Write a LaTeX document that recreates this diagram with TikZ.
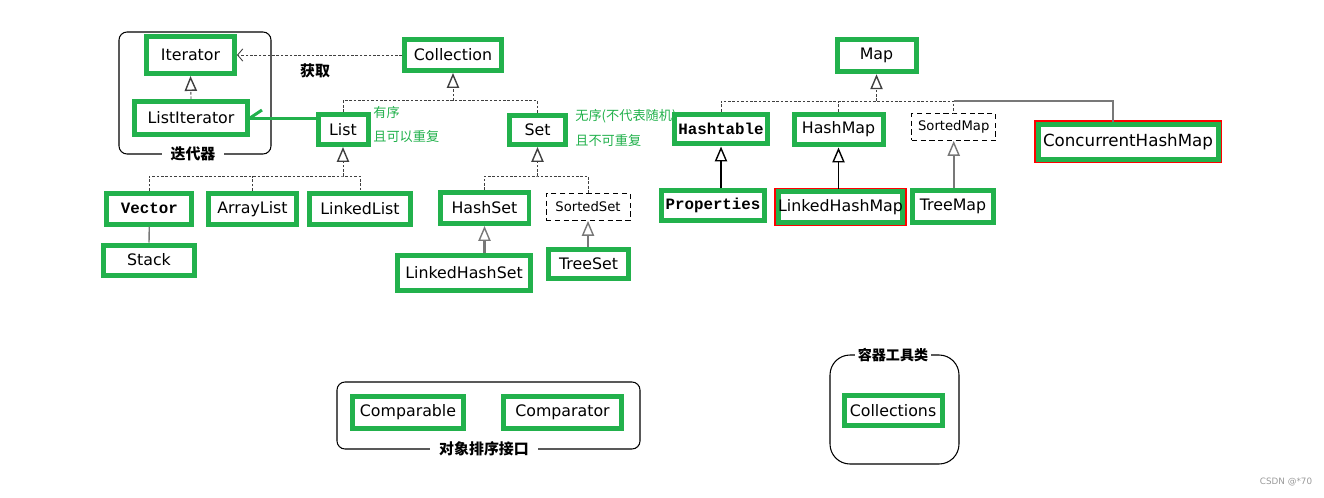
\documentclass[tikz,border=0pt]{standalone}
\usepackage{fontspec}
\setmainfont{DejaVu Sans}
\newfontfamily\cjk{Noto Sans CJK SC}
\newfontfamily\codefont{Liberation Mono}
\usetikzlibrary{arrows.meta}
\definecolor{boxgreen}{RGB}{34,177,76}
\definecolor{linegray}{RGB}{120,120,120}

\begin{document}
\begin{tikzpicture}[x=0.02cm, y=-0.02cm,
	clsbox/.style={draw=boxgreen, line width=0.1cm, fill=white, inner sep=0pt, font=\fontsize{9}{11}\selectfont},
	ifacebox/.style={draw=black, densely dashed, line width=0.5pt, fill=white, inner sep=0pt, minimum width=1.68cm, minimum height=0.54cm, font=\fontsize{7.5}{9}\selectfont},
	monotext/.style={font=\codefont\bfseries\fontsize{9}{11}\selectfont},
	redrim/.style={preaction={draw=red, line width=0.16cm}},
	greennote/.style={text=boxgreen, font=\cjk\fontsize{7.5}{9}\selectfont, anchor=west, inner sep=0pt},
	grouptag/.style={fill=white, font=\cjk\bfseries\fontsize{8.5}{10}\selectfont, inner ysep=1pt, inner xsep=5pt},
	groupframe/.style={draw=black, line width=0.6pt, rounded corners=0.16cm},
	impline/.style={draw=black!75, dash pattern=on 1.5pt off 1pt, line width=0.5pt},
	extline/.style={draw=linegray, line width=0.8pt},
	hollow/.style={-{Triangle[open, width=7pt, length=8.5pt, line width=0.8pt]}},
]
	\useasboundingbox (0,0) rectangle (1324,497);
	
	\draw [groupframe] (119,32) rectangle (271,154);
	\draw [groupframe] (337,382) rectangle (640,449);
	\draw [groupframe, rounded corners=0.4cm] (830,355) rectangle (959,464);
	
	\node [grouptag] (G1) at (193,154) {迭代器};
	\node [grouptag] (G2) at (484,449) {对象排序接口};
	\node [grouptag, inner xsep=1.5pt, font=\cjk\bfseries\fontsize{8}{10}\selectfont] (G3) at (893,355) {容器工具类};
	\node [grouptag, fill=none] (GT) at (315,71) {获取};
	
	
	\node [clsbox, minimum width=1.76cm, minimum height=0.74cm] (IT) at (190.5,55) {Iterator};
	\node [clsbox, minimum width=2.26cm, minimum height=0.66cm] (LI) at (191,118) {ListIterator};
	
	\node [clsbox, minimum width=1.94cm, minimum height=0.62cm] (CO) at (453,55) {Collection};
	\node [clsbox, minimum width=1.00cm, minimum height=0.60cm] (LS) at (343,129.5) {List};
	\node [clsbox, minimum width=1.12cm, minimum height=0.58cm] (ST) at (537.5,130) {Set};
	
	\node [greennote] (N1) at (373,112) {有序};
	\node [greennote] (N2) at (373,137) {且可以重复};
	\node [greennote] (N3) at (575,116) {无序(不代表随机)};
	\node [greennote] (N4) at (575,140) {且不可重复};
	
	\node [clsbox, monotext, minimum width=1.70cm, minimum height=0.62cm] (VE) at (149.3,208.7) {Vector};
	\node [clsbox, minimum width=1.76cm, minimum height=0.62cm] (AL) at (252.5,208.7) {ArrayList};
	\node [clsbox, minimum width=2.04cm, minimum height=0.62cm] (LL) at (360,208.7) {LinkedList};
	\node [clsbox, minimum width=1.84cm, minimum height=0.60cm] (SK) at (149,260) {Stack};
	
	\node [clsbox, minimum width=1.78cm, minimum height=0.62cm] (HS) at (484.5,208) {HashSet};
	\node [ifacebox] (SS) at (588,207) {SortedSet};
	\node [clsbox, minimum width=2.66cm, minimum height=0.70cm] (LH) at (464,272.5) {LinkedHashSet};
	\node [clsbox, minimum width=1.60cm, minimum height=0.58cm] (TS) at (588.5,263.7) {TreeSet};
	
	
	\node [clsbox, minimum width=1.58cm, minimum height=0.64cm] (MP) at (876.5,55.8) {Map};
	\node [clsbox, monotext, minimum width=1.86cm, minimum height=0.60cm] (HT) at (721,129) {Hashtable};
	\node [clsbox, minimum width=1.78cm, minimum height=0.62cm] (HM) at (838.5,129.5) {HashMap};
	\node [ifacebox] (SM) at (953.7,127) {SortedMap};
	\node [clsbox, redrim, minimum width=3.60cm, minimum height=0.70cm, font=\fontsize{9.5}{11}\selectfont] (CH) at (1128,141.7) {ConcurrentHashMap};
	
	\node [clsbox, monotext, minimum width=2.06cm, minimum height=0.60cm] (PR) at (713,205.8) {Properties};
	\node [clsbox, redrim, minimum width=2.36cm, minimum height=0.62cm] (LM) at (840.5,207) {LinkedHashMap};
	\node [clsbox, minimum width=1.62cm, minimum height=0.64cm] (TM) at (953,206.5) {TreeMap};
	
	
	\node [clsbox, minimum width=2.24cm, minimum height=0.64cm] (CA) at (408,412.5) {Comparable};
	\node [clsbox, minimum width=2.36cm, minimum height=0.64cm] (CR) at (562.5,412.5) {Comparator};
	\node [clsbox, minimum width=1.96cm, minimum height=0.60cm] (CS) at (893,410.8) {Collections};
	
	\node [text=black!40, font=\fontsize{5}{6}\selectfont] (WM) at (1286,482) {CSDN @*70};
	
	
	\draw [impline, -{Straight Barb[length=3pt, width=7pt]}] (CO.west) -- (IT.east);
	\draw [impline, hollow] (LI.north) -- (IT.south);
	\draw [boxgreen, line width=0.06cm] (LI.east) -- (LI.east -| LS.west);
	\draw [boxgreen, line width=0.06cm] (LI.east) -- ++(12,-8);
	
	\coordinate (CJ) at (453,100.7);
	\draw [impline] (LS.north) |- (CJ) -| (ST.north);
	\draw [impline, hollow] (CJ) -- (CO.south);
	
	\coordinate (LJ) at (343,176);
	\draw [impline] (VE.north) |- (LJ) -| (LL.north);
	\draw [impline] (AL.north) -- (AL.north |- LJ);
	\draw [impline, hollow] (LJ) -- (LS.south);
	\draw [extline] (VE.south) -- (SK.north);
	
	\coordinate (SJ) at (537.5,176);
	\draw [impline] (HS.north) |- (SJ) -| (SS.north);
	\draw [impline, hollow] (SJ) -- (ST.south);
	\draw [extline, line width=1.2pt, hollow] (LH.north -| HS.south) -- (HS.south);
	\draw [extline, line width=1.2pt, hollow] (TS.north -| SS.south) -- (SS.south);
	
	\coordinate (MJ) at (876.5,101);
	\draw [impline] (HT.north) |- (MJ) -| (SM.north);
	\draw [impline] (HM.north) -- (HM.north |- MJ);
	\draw [impline, hollow] (MJ) -- (MP.south);
	\draw [extline] (SM.north |- MJ) -| ([xshift=-0.3cm]CH.north);
	\draw [line width=0.6pt, hollow] (PR.north -| HT.south) -- (HT.south);
	\draw [line width=0.6pt, hollow] (LM.north -| HM.south) -- (HM.south);
	\draw [extline, line width=1.2pt, hollow] (TM.north -| SM.south) -- (SM.south);
\end{tikzpicture}
\end{document}
